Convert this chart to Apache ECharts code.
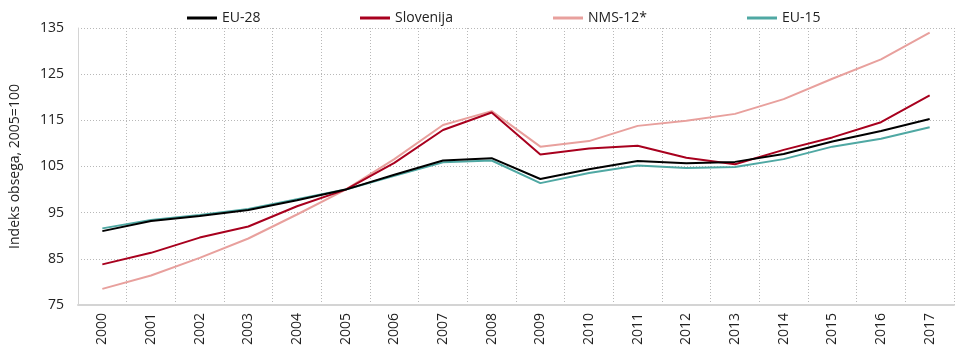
<!DOCTYPE html>
<html>
<head>
<meta charset="utf-8">
<script src="https://cdn.jsdelivr.net/npm/echarts@6/dist/echarts.min.js"></script>
<style>
  html, body { margin: 0; padding: 0; background: #fff; }
  #chart { width: 960px; height: 349px; }
</style>
</head>
<body>
<div id="chart"></div>
<script>
// Volume index, 2005 = 100
const years = ['2000','2001','2002','2003','2004','2005','2006','2007','2008','2009','2010','2011','2012','2013','2014','2015','2016','2017'];
const eu28      = [91.0, 93.2, 94.3, 95.6, 97.7, 100, 103.2, 106.3, 106.8, 102.3, 104.4, 106.2, 105.7, 106.0, 107.7, 110.4, 112.7, 115.3];
const slovenija = [83.8, 86.3, 89.6, 92.0, 96.4, 100, 105.8, 112.9, 116.7, 107.6, 108.9, 109.5, 106.9, 105.5, 108.6, 111.3, 114.6, 120.4];
const nms12     = [78.5, 81.4, 85.2, 89.4, 94.6, 100, 106.6, 114.0, 117.0, 109.3, 110.5, 113.8, 114.9, 116.4, 119.6, 124.0, 128.2, 134.0];
const eu15      = [91.6, 93.4, 94.5, 95.8, 97.9, 100, 103.0, 105.9, 106.3, 101.4, 103.6, 105.2, 104.7, 104.9, 106.6, 109.3, 111.0, 113.5];
const yTicks = { min: 75, max: 135, step: 10 };

const FONT = 'Open Sans';
const chart = echarts.init(document.getElementById('chart'), null, { renderer: 'canvas' });

const names = ['EU-28', 'Slovenija', 'NMS-12*', 'EU-15'];
const colors = ['#000000', '#a8001e', '#e8a09d', '#4fa8a3'];
const legendLeft = [182, 355, 548, 742];

function line(name, data, color, z) {
  return {
    name, type: 'line', data, z,
    symbol: 'none', smooth: false,
    lineStyle: { color, width: 2 },
    itemStyle: { color },
    emphasis: { disabled: true }
  };
}

chart.setOption({
  animation: false,
  textStyle: { fontFamily: FONT },
  legend: names.map((n, i) => ({
    data: [n],
    top: 6,
    left: legendLeft[i],
    itemWidth: 30,
    itemHeight: 3,
    itemGap: 4,
    icon: 'rect',
    textStyle: { fontFamily: FONT, fontSize: 14, color: '#222' },
    selectedMode: false
  })),
  grid: { left: 74, right: 6, top: 28, bottom: 44 },
  xAxis: {
    type: 'category',
    data: years,
    boundaryGap: true,
    axisLine: { show: true, lineStyle: { color: '#d4d4d4', width: 2 } },
    axisTick: { show: false },
    axisLabel: { rotate: 90, fontSize: 14, color: '#222', margin: 8, fontFamily: FONT },
    splitLine: { show: true, interval: 0, lineStyle: { color: '#b8b8b8', type: [1, 2], width: 1 } }
  },
  yAxis: {
    type: 'value',
    min: yTicks.min, max: yTicks.max, interval: yTicks.step,
    name: 'Indeks obsega, 2005=100',
    nameLocation: 'middle',
    nameGap: 56,
    nameRotate: 90,
    nameTextStyle: { fontSize: 14, color: '#222', fontFamily: FONT },
    axisLine: { show: true, lineStyle: { color: '#d4d4d4', width: 1 } },
    axisTick: { show: false },
    axisLabel: { fontSize: 14, color: '#222', margin: 14, fontFamily: FONT },
    splitLine: { show: true, lineStyle: { color: '#b8b8b8', type: [1, 2], width: 1 } }
  },
  series: [
    line('NMS-12*', nms12, colors[2], 2),
    line('EU-15', eu15, colors[3], 3),
    line('Slovenija', slovenija, colors[1], 4),
    line('EU-28', eu28, colors[0], 5)
  ]
});
</script>
</body>
</html>
